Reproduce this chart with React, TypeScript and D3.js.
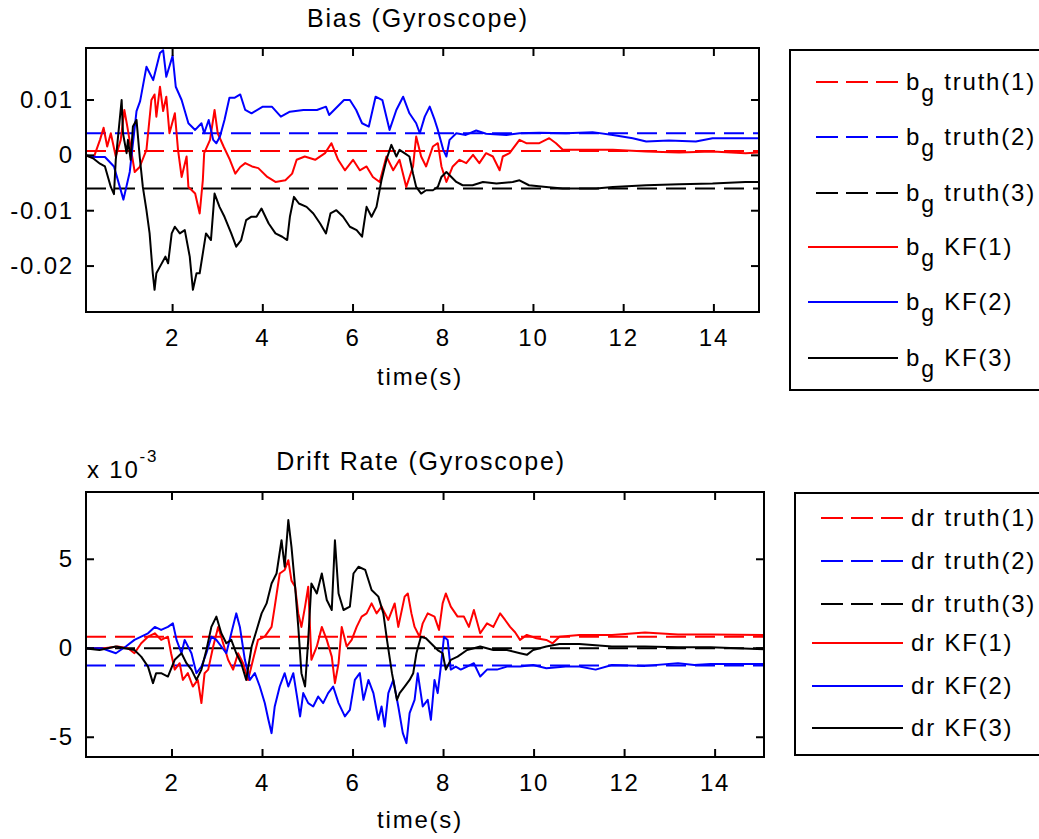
import React from "react";
import * as d3 from "d3";

// time (s) / value pairs
const biasTruth = [0.0008, 0.004, -0.006];
const biasKF1: [number, number][] = [
  [0.08, 0], [0.25, -0.0004], [0.39, 0.0028], [0.47, 0.005], [0.55, 0.0016], [0.63, 0.004], [0.74, -0.0002],
  [0.85, 0.0028], [0.93, 0.0082], [1.0, 0.005], [1.08, 0.001], [1.16, -0.003], [1.27, -0.0021], [1.42, 0.001],
  [1.53, 0.01], [1.6, 0.011], [1.64, 0.007], [1.72, 0.0124], [1.79, 0.008], [1.86, 0.0106], [1.93, 0.004],
  [2.05, 0.0076], [2.12, 0.001], [2.2, -0.0039], [2.31, -0.0002], [2.35, -0.0057], [2.5, -0.0069], [2.6, -0.0105],
  [2.67, -0.0045], [2.7, 0.0004], [2.83, 0.0028], [2.93, 0.0082], [3.0, 0.004], [3.13, 0.0016], [3.27, -0.0008],
  [3.39, -0.0033], [3.5, -0.0021], [3.61, -0.0014], [3.76, -0.002], [3.9, -0.0023], [4.1, -0.0039], [4.28, -0.0048],
  [4.5, -0.0045], [4.65, -0.0033], [4.75, -0.0008], [4.93, -0.0002], [5.16, -0.0008], [5.38, 0.0004], [5.52, 0.0022],
  [5.67, -0.0008], [5.82, -0.0027], [6.0, -0.0008], [6.15, -0.0027], [6.3, -0.002], [6.44, -0.0039], [6.59, -0.0048],
  [6.74, -0.0002], [6.89, -0.0027], [7.03, -0.0008], [7.18, -0.0057], [7.33, -0.002], [7.4, 0.0034], [7.51, -0.0002],
  [7.62, -0.002], [7.77, 0.0016], [7.88, 0.0022], [7.96, -0.002], [8.07, -0.0048], [8.21, -0.002], [8.36, -0.0008],
  [8.51, -0.0014], [8.66, 0.0001], [8.8, -0.0014], [8.95, 0.0004], [9.1, -0.0002], [9.25, -0.0027], [9.32, -0.0002],
  [9.47, 0.0004], [9.69, 0.0028], [9.84, 0.0022], [10.13, 0.0022], [10.35, 0.0031], [10.5, 0.0022], [10.65, 0.001],
  [11.02, 0.001], [11.76, 0.001], [12.5, 0.0007], [13.23, 0.0005], [13.97, 0.0007], [14.7, 0.0004], [15.0, 0.0005],
];
const biasKF2: [number, number][] = [
  [0.08, 0], [0.3, -0.0003], [0.5, -0.0003], [0.7, -0.002], [0.91, -0.008], [1.05, -0.003], [1.2, 0.008],
  [1.28, 0.0098], [1.42, 0.016], [1.57, 0.0136], [1.72, 0.0185], [1.79, 0.019], [1.86, 0.0142], [2.0, 0.018],
  [2.07, 0.0124], [2.2, 0.01], [2.35, 0.0058], [2.5, 0.0046], [2.64, 0.0058], [2.7, 0.004], [2.8, 0.0064],
  [2.9, 0.0028], [2.97, 0.0022], [3.05, 0.0034], [3.15, 0.0064], [3.26, 0.0104], [3.37, 0.0104], [3.5, 0.011],
  [3.61, 0.0082], [3.75, 0.0076], [4.0, 0.0088], [4.2, 0.0088], [4.4, 0.007], [4.6, 0.0079], [4.9, 0.0082],
  [5.2, 0.0082], [5.4, 0.0088], [5.47, 0.0073], [5.8, 0.01], [5.93, 0.01], [6.07, 0.0082], [6.2, 0.0058],
  [6.35, 0.0052], [6.5, 0.0106], [6.65, 0.01], [6.81, 0.0046], [6.96, 0.0082], [7.11, 0.0106], [7.25, 0.0076],
  [7.4, 0.0058], [7.48, 0.004], [7.59, 0.007], [7.7, 0.0088], [7.81, 0.0064], [7.88, 0.0046], [8.0, 0.001],
  [8.07, -0.0002], [8.14, 0.0028], [8.29, 0.004], [8.5, 0.0037], [8.73, 0.0045], [8.95, 0.0039], [9.4, 0.0037],
  [9.69, 0.004], [10.13, 0.0041], [10.72, 0.004], [11.31, 0.0042], [11.76, 0.0037], [12.2, 0.0031], [12.5, 0.0025],
  [13.0, 0.0027], [13.6, 0.0025], [13.97, 0.0031], [15.0, 0.0031],
];
const biasKF3: [number, number][] = [
  [0.08, 0], [0.25, -0.0006], [0.39, -0.0015], [0.5, -0.002], [0.63, -0.0057], [0.7, -0.007], [0.74, -0.0008],
  [0.87, 0.01], [0.9, 0.004], [0.98, 0.0004], [1.01, 0.0028], [1.07, -0.0008], [1.12, 0.0052], [1.2, 0.0064],
  [1.27, -0.0002], [1.34, -0.0057], [1.42, -0.0099], [1.49, -0.0141], [1.56, -0.0213], [1.6, -0.0243],
  [1.64, -0.0213], [1.72, -0.0201], [1.84, -0.0183], [1.9, -0.0195], [1.98, -0.0141], [2.05, -0.0129],
  [2.16, -0.0141], [2.27, -0.0135], [2.38, -0.0183], [2.45, -0.0243], [2.53, -0.0213], [2.6, -0.0213],
  [2.67, -0.0177], [2.74, -0.0141], [2.85, -0.0153], [2.93, -0.0069], [3.04, -0.0093], [3.15, -0.0111],
  [3.3, -0.0141], [3.41, -0.0165], [3.52, -0.0153], [3.63, -0.0117], [3.74, -0.0111], [3.86, -0.0111],
  [3.97, -0.0096], [4.13, -0.0123], [4.28, -0.0141], [4.43, -0.0147], [4.54, -0.0153], [4.6, -0.0111],
  [4.69, -0.0075], [4.8, -0.0087], [4.97, -0.0093], [5.12, -0.0105], [5.27, -0.0123], [5.4, -0.0141],
  [5.5, -0.0105], [5.63, -0.0099], [5.78, -0.0111], [5.93, -0.0129], [6.08, -0.0135], [6.2, -0.0147],
  [6.3, -0.0093], [6.41, -0.0111], [6.52, -0.0093], [6.63, -0.0045], [6.74, -0.0008], [6.85, 0.0019],
  [6.96, -0.0002], [7.03, 0.001], [7.14, 0.0004], [7.25, -0.0002], [7.33, -0.0033], [7.4, -0.0057],
  [7.51, -0.0069], [7.62, -0.0063], [7.77, -0.0063], [7.88, -0.0057], [7.96, -0.0039], [8.07, -0.003],
  [8.18, -0.0039], [8.29, -0.0048], [8.43, -0.0054], [8.65, -0.0054], [8.88, -0.0048], [9.18, -0.0051],
  [9.54, -0.0048], [9.69, -0.0045], [9.9, -0.0054], [10.28, -0.0057], [10.65, -0.006], [11.39, -0.006],
  [11.76, -0.0057], [12.5, -0.0054], [13.23, -0.0052], [13.97, -0.0051], [14.7, -0.0048], [15.0, -0.0048],
];

// drift rate values in units of 1e-3
const driftTruth = [0.65, -0.97, 0];
const driftKF1: [number, number][] = [
  [0.08, 0], [0.5, 0], [0.8, 0.1], [1.03, 0], [1.17, -0.28], [1.32, 0.28], [1.47, 0.65], [1.62, 0.84], [1.76, 0.47],
  [1.91, 0.65], [1.98, -0.28], [2.06, -1.2], [2.17, -0.84], [2.24, -1.78], [2.35, -1.4], [2.46, -2.15], [2.57, -1.78],
  [2.65, -3.08], [2.72, -1.4], [2.8, -1.2], [2.91, 0.1], [3.02, 1.2], [3.13, 0.28], [3.24, -0.65], [3.35, -1.2],
  [3.46, -0.28], [3.57, -0.84], [3.68, -1.78], [3.79, -0.65], [3.9, 0.47], [4.05, 0.65], [4.2, 1.2], [4.27, 2.34],
  [4.38, 4.2], [4.49, 4.4], [4.57, 4.95], [4.64, 3.8], [4.72, 3.46], [4.79, 1.96], [4.86, 1.2], [4.94, 2.34],
  [5.01, 3.46], [5.08, -0.65], [5.2, 0.1], [5.31, 1.2], [5.42, 0.47], [5.53, -0.47], [5.6, -1.96], [5.68, -0.84],
  [5.75, 1.2], [5.86, 0.1], [5.97, 0.47], [6.08, 1.2], [6.19, 1.78], [6.3, 1.96], [6.41, 2.52], [6.52, 1.96],
  [6.63, 2.34], [6.78, 1.59], [6.92, 2.52], [7.0, 1.2], [7.14, 2.9], [7.21, 3.08], [7.29, 1.96], [7.36, 1.2],
  [7.47, 0.65], [7.54, 1.4], [7.65, 1.96], [7.8, 1.78], [7.9, 1.03], [7.98, 2.52], [8.05, 3.08], [8.16, 2.34],
  [8.31, 1.78], [8.45, 1.78], [8.56, 1.2], [8.67, 2.15], [8.81, 0.84], [8.96, 1.4], [9.1, 1.2], [9.25, 1.96],
  [9.36, 1.59], [9.47, 1.2], [9.58, 0.9], [9.69, 0.47], [9.84, 0.75], [10.05, 0.56], [10.27, 0.47], [10.41, 0.28],
  [10.56, 0.65], [11.0, 0.75], [11.72, 0.75], [12.45, 0.88], [13.18, 0.78], [13.9, 0.78], [15.08, 0.75],
];
const driftKF2: [number, number][] = [
  [0.08, 0], [0.45, 0], [0.76, -0.28], [0.98, 0.1], [1.17, 0.47], [1.32, 0.65], [1.47, 0.84], [1.62, 1.2],
  [1.76, 1.03], [1.91, 1.2], [2.02, 1.4], [2.1, 0.47], [2.21, -0.28], [2.28, 0.47], [2.43, -0.28], [2.54, -1.4],
  [2.65, -1.03], [2.76, -0.28], [2.87, 0.65], [2.98, 0.47], [3.09, 0.1], [3.2, -0.28], [3.31, 0.84], [3.42, 1.96],
  [3.5, 1.2], [3.61, -0.65], [3.72, -1.78], [3.83, -1.4], [3.94, -2.15], [4.05, -3.08], [4.13, -4.02], [4.2, -4.77],
  [4.27, -3.27], [4.38, -2.15], [4.49, -1.4], [4.57, -2.15], [4.68, -1.4], [4.75, -2.52], [4.83, -3.83],
  [4.9, -2.52], [5.01, -3.08], [5.12, -3.27], [5.23, -2.71], [5.34, -3.08], [5.45, -2.52], [5.56, -2.15],
  [5.68, -3.08], [5.82, -3.83], [5.93, -3.46], [6.04, -1.78], [6.15, -1.4], [6.23, -2.9], [6.34, -1.78],
  [6.45, -2.52], [6.56, -4.02], [6.63, -3.27], [6.7, -4.4], [6.78, -2.52], [6.89, -1.78], [7.0, -3.27],
  [7.1, -4.77], [7.18, -5.33], [7.25, -3.64], [7.36, -2.9], [7.43, -1.4], [7.54, -3.27], [7.65, -2.9],
  [7.72, -4.02], [7.8, -1.78], [7.87, -2.52], [7.94, -1.03], [8.01, 0.65], [8.09, 0.47], [8.16, -1.2],
  [8.27, -1.03], [8.38, -1.2], [8.52, -1.03], [8.67, -0.84], [8.81, -1.59], [8.96, -1.2], [9.18, -1.2],
  [9.4, -1.03], [9.69, -1.03], [9.98, -0.94], [10.27, -1.12], [10.7, -1.03], [11.0, -1.03], [11.36, -1.2],
  [11.72, -0.94], [12.45, -0.99], [13.18, -0.84], [13.54, -0.94], [13.9, -0.88], [15.08, -0.88],
];
const driftKF3: [number, number][] = [
  [0.08, 0], [0.4, -0.1], [0.76, 0.1], [1.17, -0.1], [1.32, -0.47], [1.47, -1.03], [1.58, -1.96], [1.65, -1.4],
  [1.76, -1.4], [1.91, -1.59], [2.06, -0.65], [2.21, -0.28], [2.32, -0.84], [2.43, -1.2], [2.54, -1.78],
  [2.65, -1.2], [2.76, -0.1], [2.87, 1.2], [2.98, 1.78], [3.09, 0.84], [3.2, 0.28], [3.31, 0.47], [3.42, -0.28],
  [3.53, -0.84], [3.64, -1.78], [3.76, 0.1], [3.87, 1.03], [3.98, 1.96], [4.09, 2.52], [4.2, 3.64], [4.31, 4.2],
  [4.42, 6.07], [4.49, 4.58], [4.57, 7.2], [4.64, 5.7], [4.72, 3.46], [4.79, 1.2], [4.86, -1.4], [4.94, -2.15],
  [5.01, 0.47], [5.08, 3.64], [5.2, 3.08], [5.31, 4.2], [5.42, 2.71], [5.53, 2.15], [5.6, 6.07], [5.68, 3.08],
  [5.79, 2.15], [5.93, 2.34], [6.01, 4.2], [6.12, 4.58], [6.27, 4.4], [6.41, 3.27], [6.56, 2.9], [6.67, 1.96],
  [6.75, 0.47], [6.86, -1.4], [6.97, -2.9], [7.03, -2.52], [7.14, -2.15], [7.25, -1.78], [7.33, -1.4],
  [7.4, -0.28], [7.5, 0.65], [7.61, 0.56], [7.72, 0.28], [7.87, -0.1], [7.98, -0.28], [8.05, -1.2], [8.16, -0.65],
  [8.31, -0.47], [8.52, -0.1], [8.67, 0], [8.81, 0.1], [9.1, -0.1], [9.4, -0.1], [9.69, -0.28], [9.84, -0.37],
  [9.98, -0.1], [10.27, 0.1], [10.56, 0.24], [11.0, 0.24], [11.72, 0.1], [12.45, 0.1], [13.18, 0.06],
  [13.9, 0.06], [15.08, -0.05],
];

const xTicks = [2, 4, 6, 8, 10, 12, 14];
const biasYTicks = [0.01, 0, -0.01, -0.02];
const driftYTicks = [5, 0, -5];
const colors = ["#ff0000", "#0000ff", "#000000"];

const FONT = "'Liberation Sans', Arial, sans-serif";
const LS = 1.8;
const FS = 24;

type PanelProps = {
  id: string;
  left: number;
  right: number;
  top: number;
  bottom: number;
  xDomain: [number, number];
  yDomain: [number, number];
  yTicks: number[];
  yFormat: (v: number) => string;
  truth: number[];
  kf: [number, number][][];
  title: string;
  titleX: number;
  titleY: number;
  labelY: number;
  tickLabelY: number;
};

function Panel(p: PanelProps) {
  const x = d3.scaleLinear().domain(p.xDomain).range([p.left, p.right]);
  const y = d3.scaleLinear().domain(p.yDomain).range([p.bottom, p.top]);
  const line = d3
    .line<[number, number]>()
    .x((d) => x(d[0]))
    .y((d) => y(d[1]));
  const tk = 8;
  return (
    <g>
      <defs>
        <clipPath id={p.id}>
          <rect x={p.left} y={p.top} width={p.right - p.left} height={p.bottom - p.top} />
        </clipPath>
      </defs>
      <g clipPath={`url(#${p.id})`}>
        {p.truth.map((v, i) => (
          <line
            key={"t" + i}
            x1={x(p.xDomain[0])}
            x2={x(p.xDomain[1])}
            y1={y(v)}
            y2={y(v)}
            stroke={colors[i]}
            strokeWidth={2}
            strokeDasharray="20 9"
          />
        ))}
        {p.kf.map((s, i) => (
          <path key={"k" + i} d={line(s) || ""} fill="none" stroke={colors[i]} strokeWidth={2} strokeLinejoin="round" />
        ))}
      </g>
      <rect x={p.left} y={p.top} width={p.right - p.left} height={p.bottom - p.top} fill="none" stroke="#000" strokeWidth={2} />
      {xTicks.map((t) => (
        <g key={"x" + t}>
          <line x1={x(t)} x2={x(t)} y1={p.bottom} y2={p.bottom - tk} stroke="#000" strokeWidth={2} />
          <line x1={x(t)} x2={x(t)} y1={p.top} y2={p.top + tk} stroke="#000" strokeWidth={2} />
          <text x={x(t)} y={p.tickLabelY} textAnchor="middle" fontSize={FS} letterSpacing={LS}>
            {t}
          </text>
        </g>
      ))}
      {p.yTicks.map((t) => (
        <g key={"y" + t}>
          <line x1={p.left} x2={p.left + tk} y1={y(t)} y2={y(t)} stroke="#000" strokeWidth={2} />
          <line x1={p.right} x2={p.right - tk} y1={y(t)} y2={y(t)} stroke="#000" strokeWidth={2} />
          <text x={74} y={y(t) + 8} textAnchor="end" fontSize={FS} letterSpacing={LS}>
            {p.yFormat(t)}
          </text>
        </g>
      ))}
      <text x={p.titleX} y={p.titleY} textAnchor="middle" fontSize={25} letterSpacing={LS}>
        {p.title}
      </text>
      <text x={420} y={p.labelY} textAnchor="middle" fontSize={FS} letterSpacing={LS}>
        time(s)
      </text>
    </g>
  );
}

type LegendProps = {
  left: number;
  top: number;
  bottom: number;
  rows: number[];
  lineStart: number;
  dashStart: number;
  lineEnd: number;
  textX: number;
  prefix: "bg" | "dr";
};

function Legend(p: LegendProps) {
  const names = ["truth(1)", "truth(2)", "truth(3)", "KF(1)", "KF(2)", "KF(3)"];
  return (
    <g>
      <rect x={p.left} y={p.top} width={1060 - p.left} height={p.bottom - p.top} fill="#fff" stroke="#000" strokeWidth={2} />
      {names.map((n, i) => {
        const yy = p.rows[i];
        const dashed = i < 3;
        return (
          <g key={n}>
            <line
              x1={dashed ? p.dashStart : p.lineStart}
              x2={p.lineEnd}
              y1={yy}
              y2={yy}
              stroke={colors[i % 3]}
              strokeWidth={2}
              strokeDasharray={dashed ? "22 8" : undefined}
            />
            <text x={p.textX} y={yy + 8} fontSize={FS} letterSpacing={LS}>
              {p.prefix === "bg" ? (
                <>
                  b<tspan dy={11} fontSize={23}>g</tspan>
                  <tspan dy={-11}> {n}</tspan>
                </>
              ) : (
                `dr ${n}`
              )}
            </text>
          </g>
        );
      })}
    </g>
  );
}

export default function App() {
  return (
    <svg
      width={1039}
      height={839}
      style={{ position: "absolute", left: 0, top: 0, background: "#fff", fontFamily: FONT }}
    >
      <rect width={1039} height={839} fill="#fff" />
      <Panel
        id="c1"
        left={86}
        right={759}
        top={48}
        bottom={312}
        xDomain={[0.08, 15]}
        yDomain={[-0.0283, 0.0194]}
        yTicks={biasYTicks}
        yFormat={(v) => (v === 0 ? "0" : String(v))}
        truth={biasTruth}
        kf={[biasKF1, biasKF2, biasKF3]}
        title="Bias (Gyroscope)"
        titleX={418}
        titleY={27}
        labelY={385}
        tickLabelY={346}
      />
      <Panel
        id="c2"
        left={86}
        right={764}
        top={492}
        bottom={757}
        xDomain={[0.1, 15.08]}
        yDomain={[-6.11, 8.78]}
        yTicks={driftYTicks}
        yFormat={(v) => String(v)}
        truth={driftTruth}
        kf={[driftKF1, driftKF2, driftKF3]}
        title="Drift Rate (Gyroscope)"
        titleX={421}
        titleY={470}
        labelY={828}
        tickLabelY={791}
      />
      <text x={87} y={478} fontSize={FS} letterSpacing={LS}>
        x 10
        <tspan dy={-16} fontSize={17}>-3</tspan>
      </text>
      <Legend
        left={790}
        top={50}
        bottom={390}
        rows={[82, 137, 193, 247, 302, 358]}
        lineStart={808}
        dashStart={816}
        lineEnd={898}
        textX={906}
        prefix="bg"
      />
      <Legend
        left={795}
        top={493}
        bottom={755}
        rows={[518, 561, 604, 643, 686, 728]}
        lineStart={812}
        dashStart={821}
        lineEnd={903}
        textX={911}
        prefix="dr"
      />
    </svg>
  );
}
